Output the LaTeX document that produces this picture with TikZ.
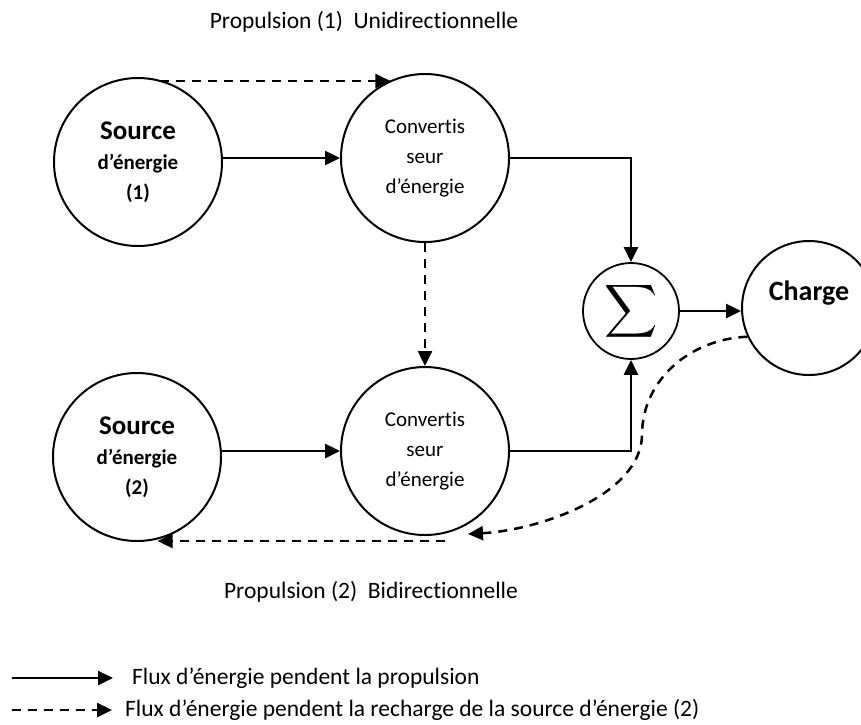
\documentclass[tikz,border=0pt]{standalone}
\usepackage{fontspec}
\setmainfont{Carlito}[Ligatures=NoCommon]
\usetikzlibrary{arrows.meta, calc}

\begin{document}
\begin{tikzpicture}[x=1pt, y=-1pt, >={Triangle[length=15pt, width=14pt]},
	bloc/.style={circle, draw, line width=2pt, minimum size=168pt, inner sep=0pt, align=center},
	flux/.style={->, line width=2.5pt},
	recharge/.style={->, line width=2.5pt, dash pattern=on 9pt off 7pt},
	label/.style={font=\fontsize{23.5}{28}\selectfont}]
	
	% Constants
	\def\xs{138}
	\def\xc{425}
	\def\xsum{631}
	
	\useasboundingbox (0,0) rectangle (861,724);
	
	% === TOP ROW ===
	\node[bloc, font=\fontsize{21}{30}\selectfont\bfseries] (src1) at (\xs,162)
	{{\fontsize{27}{30}\selectfont Source}\\d’énergie\\(1)};
	\node[bloc, font=\fontsize{21}{30}\selectfont] (conv1) at (\xc,158)
	{Convertis\\seur\\d’énergie};
	\node[label] (prop1) at (364,22) {Propulsion (1)\ \ Unidirectionnelle};
	
	% === BOTTOM ROW ===
	\node[bloc, font=\fontsize{21}{30}\selectfont\bfseries] (src2) at (\xs-1,457)
	{{\fontsize{27}{30}\selectfont Source}\\d’énergie\\(2)};
	\node[bloc, font=\fontsize{21}{30}\selectfont] (conv2) at (\xc,451)
	{Convertis\\seur\\d’énergie};
	\node[label] (prop2) at (371,592) {Propulsion (2)\ \ Bidirectionnelle};
	
	% === SUM AND LOAD ===
	\node[circle, draw, line width=1.8pt, minimum size=96pt, inner sep=0pt] (sigma) at (\xsum,311)
	{\scalebox{3.7}{$\displaystyle\sum$}};
	\node[circle, draw, line width=2pt, minimum size=134pt, inner sep=0pt] (charge) at (809,308) {};
	\node[font=\fontsize{28}{30}\selectfont\bfseries] (chargetxt) at ([yshift=15pt]charge) {Charge};
	
	% === CONNECTORS ===
	\coordinate (dtop) at (160,81);
	\draw[recharge] (dtop) -- (dtop -| conv1.114);
	\draw[flux] (conv1 -| src1.east) -- (conv1.west);
	\draw[flux] (conv2 -| src2.east) -- (conv2.west);
	\draw[recharge] (conv1.south) -- (conv2.north);
	\draw[flux] (conv1.east) -| (sigma.north);
	\draw[flux] (conv2.east) -| (sigma.south);
	\draw[flux] (sigma.east) -- (sigma -| charge.west);
	\coordinate (cend) at (468,534);
	\draw[recharge] (charge.205) .. controls (690,339) and (642,380) .. (642,435)
	.. controls (641,495) and (540,530) .. (cend);
	\coordinate (dbot) at (445,541);
	\draw[recharge] (dbot) -- (dbot -| src2.-76);
	
	% === LEGEND ===
	\coordinate (leg1a) at (12,678);
	\coordinate (leg1b) at (113,678);
	\coordinate (leg2a) at (12,710);
	\coordinate (leg2b) at (112,710);
	\draw[flux] (leg1a) -- (leg1b);
	\draw[recharge] (leg2a) -- (leg2b);
	\node[label, anchor=west, inner sep=0pt] (leg1) at (132,678) {Flux d’énergie pendent la propulsion};
	\node[label, anchor=west, inner sep=0pt] (leg2) at (125,710) {Flux d’énergie pendent la recharge de la source d’énergie (2)};
	
\end{tikzpicture}
\end{document}
